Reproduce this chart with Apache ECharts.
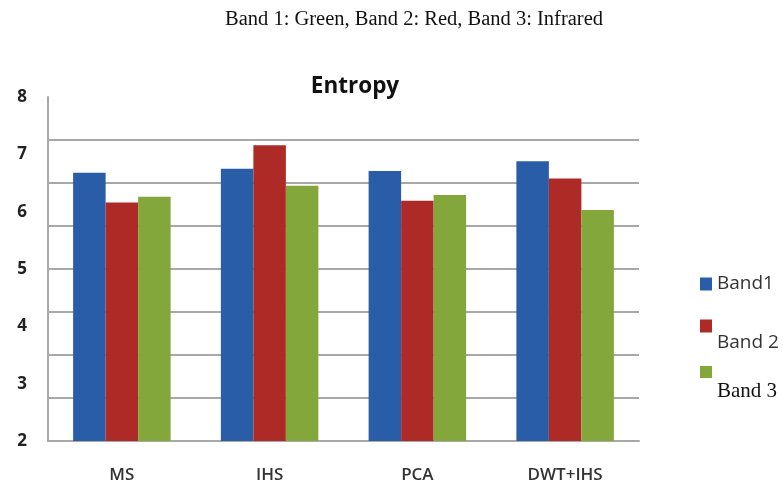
<!DOCTYPE html>
<html>
<head>
<meta charset="utf-8">
<script src="https://cdn.jsdelivr.net/npm/echarts@6/dist/echarts.min.js"></script>
<style>
html,body{margin:0;padding:0;background:#fff;}
#chart{width:783px;height:488px;}
</style>
</head>
<body>
<div id="chart"></div>
<script>
const categories = ['MS', 'IHS', 'PCA', 'DWT+IHS'];
const band1 = [6.68, 6.75, 6.71, 6.88];
const band2 = [6.16, 7.16, 6.19, 6.58];
const band3 = [6.26, 6.45, 6.29, 6.03];
const seriesNames = ['Band1', 'Band 2', 'Band 3'];
const yLabels = [2, 3, 4, 5, 6, 7, 8];
const captionText = 'Band 1: Green, Band 2: Red, Band 3: Infrared';
const chartTitle = 'Entropy';

const colors = ['#2a5da8', '#ae2a27', '#83a73a'];
const gridColor = '#a8a8a8';

const chart = echarts.init(document.getElementById('chart'), null, {renderer: 'canvas'});
const option = {
  backgroundColor: '#ffffff',
  animation: false,
  title: [
    {
      text: captionText, left: 409, top: 4, textAlign: 'center',
      textStyle: {fontFamily: 'Liberation Serif', fontSize: 20.5, fontWeight: 'normal', color: '#111'}
    },
    {
      text: chartTitle, left: 350, top: 70, textAlign: 'center',
      textStyle: {fontFamily: 'Open Sans', fontSize: 22.5, fontWeight: 'bold', color: '#111'}
    }
  ],
  legend: [
    {
      data: [seriesNames[0]], left: 700, top: 274, padding: 0, itemWidth: 12, itemHeight: 13, itemGap: 0,
      icon: 'rect', selectedMode: false,
      textStyle: {fontFamily: 'Open Sans', fontSize: 19, lineHeight: 20, color: '#333'}
    },
    {
      data: [seriesNames[1]], left: 700, top: 293, padding: 0, itemWidth: 12, itemHeight: 13, itemGap: 0,
      icon: 'rect', selectedMode: false,
      formatter: function (name) { return '\n' + name; },
      textStyle: {fontFamily: 'Open Sans', fontSize: 19, lineHeight: 33, color: '#333'}
    },
    {
      data: [seriesNames[2]], left: 700, top: 334, padding: 0, itemWidth: 12, itemHeight: 12, itemGap: 0,
      icon: 'rect', selectedMode: false,
      formatter: function (name) { return '\n' + name; },
      textStyle: {fontFamily: 'Liberation Serif', fontSize: 21, lineHeight: 38, color: '#111'}
    }
  ],
  grid: {left: 48, right: 144, top: 97, bottom: 47, containLabel: false},
  xAxis: {
    type: 'category',
    data: categories,
    axisLine: {show: true, lineStyle: {color: gridColor, width: 2}},
    axisTick: {show: false},
    axisLabel: {margin: 26, fontFamily: 'Open Sans', fontSize: 17, fontWeight: 600, color: '#333'},
    splitLine: {show: false}
  },
  yAxis: [
    {
      type: 'value', min: yLabels[0], max: yLabels[yLabels.length - 1], interval: 1,
      axisLine: {show: true, lineStyle: {color: gridColor, width: 2}},
      axisTick: {show: false},
      axisLabel: {margin: 21, fontFamily: 'Open Sans', fontSize: 17, fontWeight: 'bold', color: '#222'},
      splitLine: {show: false}
    },
    {
      type: 'value', min: 0, max: 8, interval: 1, position: 'left',
      axisLine: {show: false}, axisTick: {show: false}, axisLabel: {show: false},
      splitLine: {show: true, showMinLine: false, showMaxLine: false, lineStyle: {color: gridColor, width: 2}}
    }
  ],
  series: [
    {name: seriesNames[0], type: 'bar', data: band1, yAxisIndex: 0, barGap: '0%', barCategoryGap: '34%', itemStyle: {color: colors[0]}},
    {name: seriesNames[1], type: 'bar', data: band2, yAxisIndex: 0, barGap: '0%', barCategoryGap: '34%', itemStyle: {color: colors[1]}},
    {name: seriesNames[2], type: 'bar', data: band3, yAxisIndex: 0, barGap: '0%', barCategoryGap: '34%', itemStyle: {color: colors[2]}}
  ]
};
chart.setOption(option);
</script>
</body>
</html>
